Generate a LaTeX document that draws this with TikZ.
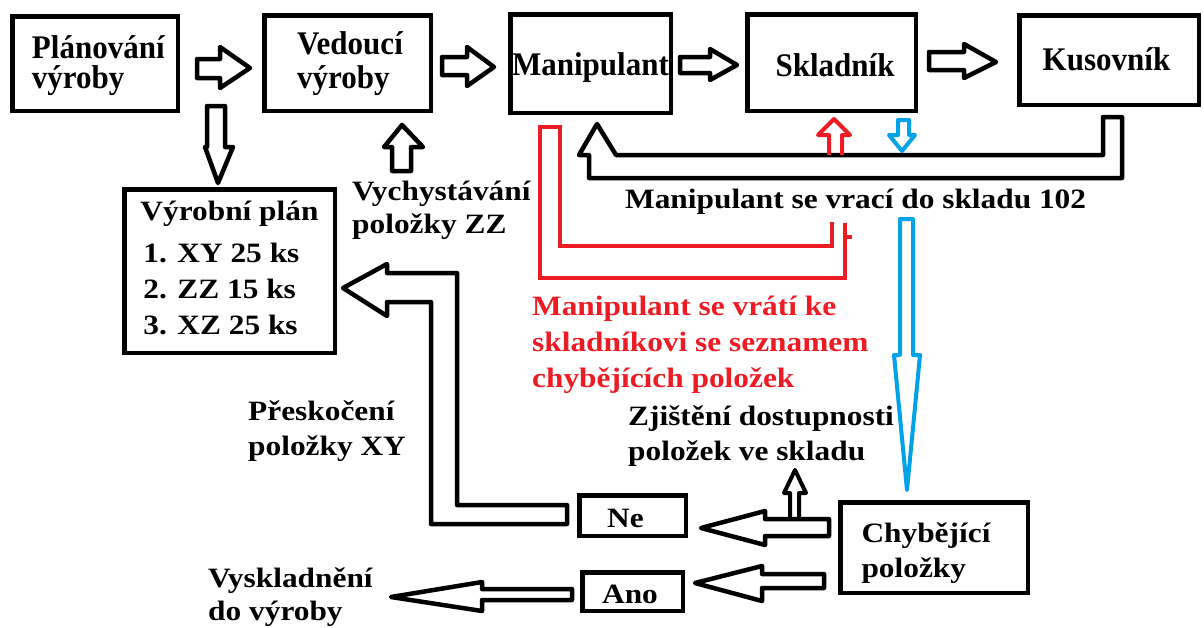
\documentclass[tikz,border=0pt]{standalone}
\usepackage{fontspec}
\setmainfont{Liberation Serif}
\newfontfamily\boxfont[FakeStretch=0.94]{Liberation Serif}
\newfontfamily\lblfont[FakeStretch=1.12]{Liberation Serif}
\newcommand\bigtxt[1]{\boxfont\bfseries\fontsize{33}{#1}\selectfont}
\newcommand\smtxt[1]{\lblfont\bfseries\fontsize{28}{#1}\selectfont}
\newcommand\mylines[1]{\vtop{\lineskiplimit=-100pt\halign{##\hfil\cr#1\crcr}}}
\definecolor{pred}{HTML}{ED1C24}
\definecolor{pblue}{HTML}{00A2E8}
\tikzset{
  box/.style={draw, line width=4.5pt, inner sep=0pt, rectangle},
  lbl/.style={anchor=base west, inner sep=0pt},
  barrow/.style={draw, line width=4.5pt, line join=round, fill=white},
  redline/.style={draw=pred, line width=4pt, line join=miter},
  blueline/.style={draw=pblue, line width=4pt, line join=round},
}
\begin{document}
\begin{tikzpicture}[x=1pt,y=-1pt]
\fill[white] (0,0) rectangle (1204,627);
\useasboundingbox (0,0) rectangle (1204,627);

% boxes
\node[box, minimum width=165.5pt, minimum height=94.5pt, text height=10pt, text depth=21pt] (plan) at (95,63.5)
  {\bigtxt{30}\hspace*{6.6pt}\mylines{Plánování\cr výroby}};
\node[box, minimum width=166.5pt, minimum height=95.5pt, text height=5pt, text depth=23pt] (ved) at (347.5,63)
  {\bigtxt{34}\hspace*{5pt}\mylines{Vedoucí\cr výroby}};
\node[box, minimum width=160.5pt, minimum height=98.5pt, text height=23pt, text depth=0pt] (man) at (590.5,63.5)
  {\bigtxt{30}Manipulant};
\node[box, minimum width=168.5pt, minimum height=96.5pt, text height=27pt, text depth=0pt] (skl) at (831.5,62.5)
  {\bigtxt{30}\hspace*{7pt}Skladník};
\node[box, minimum width=179.5pt, minimum height=89.5pt, text height=21pt, text depth=0pt] (kus) at (1109,60)
  {\bigtxt{30}Kusovník\hspace*{5pt}};
\node[box, minimum width=210.5pt, minimum height=163.5pt, text height=10pt, text depth=112pt] (vp) at (229.5,271)
  {\smtxt{36}\mylines{Výrobní plán\cr\noalign{\kern6pt}\hskip3pt 1. XY 25 ks\cr\hskip3pt 2. ZZ 15 ks\cr\hskip3pt 3. XZ 25 ks}};
\node[box, minimum width=106.5pt, minimum height=40.5pt, text height=23pt, text depth=0pt] (ne) at (632.5,515.5)
  {\smtxt{36}Ne\hspace*{14pt}};
\node[box, minimum width=100.5pt, minimum height=38.5pt, text height=23pt, text depth=0pt] (ano) at (632.5,591.5)
  {\smtxt{36}Ano\hspace*{5pt}};
\node[box, minimum width=187.5pt, minimum height=90.5pt, text height=10pt, text depth=21pt] (chyb) at (934,547.5)
  {\smtxt{35}\mylines{Chybějící\cr položky}\hspace*{16pt}};

% free labels
\node[lbl] (vych) at (352,200) {\smtxt{33}\mylines{Vychystávání\cr položky ZZ}};
\node[lbl] (ret) at (625,208) {\smtxt{36}Manipulant se vrací do skladu 102};
\node[lbl, text=pred] (redtxt) at (532,315) {\smtxt{36}\mylines{Manipulant se vrátí ke\cr skladníkovi se seznamem\cr chybějících položek}};
\node[lbl] (zji) at (628,425) {\smtxt{35}\mylines{Zjištění dostupnosti\cr položek ve skladu}};
\node[lbl] (pre) at (248,420) {\smtxt{35}\mylines{Přeskočení\cr položky XY}};
\node[lbl] (vys) at (208,587) {\smtxt{33}\mylines{Vyskladnění\cr do výroby}};

% top row block arrows
\path[barrow] (197,59) -- (220,59) -- (220,47) -- (250,68) -- (220,88) -- (220,78) -- (197,78) -- cycle;
\path[barrow] (442,57) -- (467,57) -- (467,47) -- (494,67) -- (467,86) -- (467,75) -- (442,75) -- cycle;
\path[barrow] (680,57) -- (710,57) -- (710,49) -- (737,65) -- (710,80) -- (710,73) -- (680,73) -- cycle;
\path[barrow] (929,52) -- (964,52) -- (964,44) -- (996,62) -- (964,78) -- (964,70) -- (929,70) -- cycle;

% plan -> vyrobni plan
\path[barrow] (207,106) -- (225,106) -- (225,147) -- (233,147) -- (218,183) -- (205,147) -- (207,147) -- cycle;
% vychystavani -> vedouci
\path[barrow] (392,171) -- (392,147) -- (384,147) -- (402,125) -- (423,147) -- (411,147) -- (411,171) -- cycle;

% return U arrow Kusovnik -> Manipulant
\path[barrow] (1103,117) -- (1122,117) -- (1122,178) -- (589,178) -- (589,155) -- (579,155) -- (597,124) -- (616,155) -- (1103,155) -- cycle;

% red small up arrow into Skladnik
\draw[redline, line join=round] (829,155) -- (829,135) -- (818,135) -- (834,119) -- (850,135) -- (842,135) -- (842,155);
% blue small down arrow from Skladnik
\draw[blueline] (898,120) -- (909,120) -- (909,135) -- (915,135) -- (902,151) -- (889,135) -- (898,135) -- cycle;

% red open U shape
\draw[redline] (832,222) -- (832,246) -- (560,246) -- (560,127) -- (540,127) -- (540,278) -- (845,278) -- (845,223);
\draw[redline] (845,237) -- (852,237);

% big blue arrow down to Chybejici polozky
\draw[blueline] (900,219) -- (913,219) -- (913,355) -- (920,355) -- (907,490) -- (894,355) -- (900,355) -- cycle;

% Ne -> Vyrobni plan (U arrow)
\path[barrow] (343,288) -- (387,264) -- (387,273) -- (457,273) -- (457,505) -- (567,505) -- (567,524) -- (431,524) -- (431,302) -- (387,302) -- (387,316) -- cycle;

% Chybejici -> Ne
\path[barrow] (701,528) -- (765,511) -- (765,519) -- (829,519) -- (829,536) -- (765,536) -- (765,545) -- cycle;
% small up arrow to Zjisteni
\draw[line width=4pt, line join=round] (790,519) -- (790,493) -- (784,493) -- (795,470) -- (806,493) -- (799,493) -- (799,519);
% Chybejici -> Ano
\path[barrow] (695,583) -- (762,566) -- (762,574) -- (824,574) -- (824,588) -- (762,588) -- (762,601) -- cycle;
% Ano -> Vyskladneni
\path[barrow] (391,597) -- (482,582) -- (482,589) -- (572,589) -- (572,600) -- (482,600) -- (482,611) -- cycle;
\end{tikzpicture}
\end{document}
